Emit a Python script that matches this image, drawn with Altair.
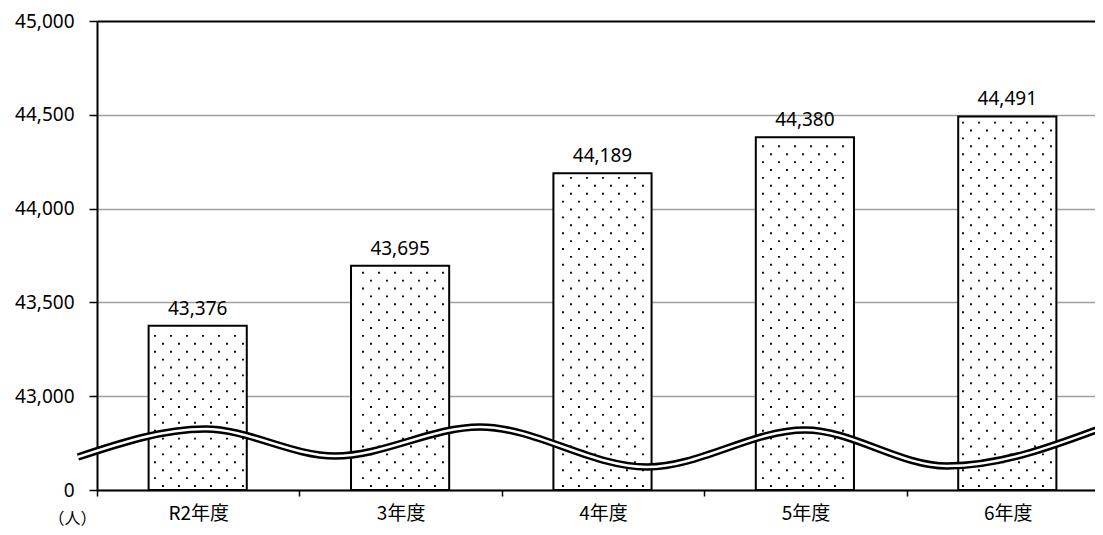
import altair as alt
import numpy as np
import pandas as pd

# ---- data ----
categories = ["R2年度", "3年度", "4年度", "5年度", "6年度"]
values = [43376, 43695, 44189, 44380, 44491]
y_ticks = [0, 43000, 43500, 44000, 44500, 45000]
y_tick_labels = ["0", "43,000", "43,500", "44,000", "44,500", "45,000"]
unit_label = "（人）"

# ---- layout constants (whole SVG kept inside the 1103x535 window) ----
PAD_L, PAD_T, PAD_B = 89, 13, 37
W, H = 998, 469
PX_X = 202.4                      # pixels per category band in the reference
X_MAX = W / PX_X                  # last band is cut at the right edge
Y_MAX = len(y_ticks) - 1
PX_Y = H / Y_MAX
BAR_L, BAR_R = 0.255, 0.74

# broken axis: piecewise-linear position through the tick values
y_pos = np.interp(values, y_ticks, list(range(len(y_ticks))))

bars = pd.DataFrame({
    "cat": categories,
    "value": values,
    "x0": [i + BAR_L for i in range(len(categories))],
    "x1": [i + BAR_R for i in range(len(categories))],
    "xc": [i + (BAR_L + BAR_R) / 2 for i in range(len(categories))],
    "y": y_pos,
    "base": 0.0,
})

# dotted fill texture (pattern lattice clipped to each bar)
dots = []
for i, yp in enumerate(y_pos):
    x0px, x1px = (i + BAR_L) * PX_X, (i + BAR_R) * PX_X
    top = yp * PX_Y
    r = 0
    while 4 + r * 7.9 < top - 3:
        ypx = 4 + r * 7.9
        off = 8 if r % 2 else 0
        k = 0
        while k * 16 + off + 2 < W:
            xpx = k * 16 + off + 2
            if x0px + 4 < xpx < x1px - 3:
                dots.append({"x": xpx / PX_X, "y": ypx / PX_Y})
            k += 1
        r += 1
dots = pd.DataFrame(dots)

# axis-break wave symbol (pixel control points: x from plot left, y up from plot bottom)
wave_px = [(-19, 33), (108, 61), (238, 34), (383, 63), (550, 23),
           (708, 60), (850, 24), (1010, 64)]
wave = pd.DataFrame({
    "x": [p[0] / PX_X for p in wave_px],
    "y": [p[1] / PX_Y for p in wave_px],
    "o": list(range(len(wave_px))),
})

xs = alt.Scale(domain=[0, X_MAX], nice=False, zero=False)
ys = alt.Scale(domain=[0, Y_MAX], nice=False, zero=False)

cat_js = "[" + ",".join("'" + c + "'" for c in categories) + "]"
ylab_js = "[" + ",".join("'" + c + "'" for c in y_tick_labels) + "]"

x_axis = alt.Axis(
    values=[v / 2 for v in range(0, 2 * len(categories))],
    labelExpr=f"(datum.value % 1) == 0.5 ? {cat_js}[floor(datum.value)] : ''",
    tickOpacity={"condition": {"test": "(datum.value % 1) == 0", "value": 1}, "value": 0},
    title=None, grid=False, labelOverlap=False, labelFlush=False, labelBound=False,
    domainColor="black", domainWidth=2, tickColor="black", tickWidth=1.5, tickSize=6,
    labelFont="Noto Sans CJK JP", labelFontSize=19, labelColor="black", labelPadding=8,
)
y_axis = alt.Axis(
    values=list(range(len(y_ticks))),
    labelExpr=f"{ylab_js}[datum.value]",
    title=unit_label, titleAngle=0, titleX=-25, titleY=H + 28, titleAlign="center",
    titleBaseline="middle", titleFont="Noto Sans CJK JP", titleFontSize=16,
    titleFontWeight="normal", titleColor="black",
    grid=True,
    gridColor={"condition": {"test": f"datum.value == {Y_MAX}", "value": "black"}, "value": "#a0a0a0"},
    gridWidth={"condition": {"test": f"datum.value == {Y_MAX}", "value": 2}, "value": 1.5},
    domainColor="black", domainWidth=2, tickColor="black", tickWidth=1.5, tickSize=8,
    labelFont="Noto Sans", labelFontSize=19, labelColor="black", labelPadding=15,
    labelOverlap=False,
)

bar_layer = alt.Chart(bars).mark_rect(fill="white", stroke="black", strokeWidth=2).encode(
    x=alt.X("x0:Q", scale=xs, axis=x_axis),
    x2="x1:Q",
    y=alt.Y("y:Q", scale=ys, axis=y_axis),
    y2="base:Q",
)

dot_layer = alt.Chart(dots).mark_square(size=3.5, color="black", opacity=1).encode(
    x=alt.X("x:Q", scale=xs), y=alt.Y("y:Q", scale=ys)
)

wave_black = alt.Chart(wave).mark_line(
    color="black", strokeWidth=7.5, interpolate="monotone", clip=False
).encode(x=alt.X("x:Q", scale=xs), y=alt.Y("y:Q", scale=ys), order="o:Q")
wave_white = alt.Chart(wave).mark_line(
    color="white", strokeWidth=2.5, interpolate="monotone", clip=False
).encode(x=alt.X("x:Q", scale=xs), y=alt.Y("y:Q", scale=ys), order="o:Q")

text_layer = alt.Chart(bars).mark_text(
    dy=-11, baseline="alphabetic", align="center", font="Noto Sans", fontSize=19, color="black"
).encode(
    x=alt.X("xc:Q", scale=xs),
    y=alt.Y("y:Q", scale=ys),
    text=alt.Text("value:Q", format=","),
)

chart = alt.layer(bar_layer, dot_layer, wave_black, wave_white, text_layer).properties(
    width=W, height=H,
    autosize=alt.AutoSizeParams(type="none"),
    padding={"left": PAD_L, "top": PAD_T, "right": 0, "bottom": PAD_B},
    background="white",
).configure_view(stroke=None)

chart.save("out.html", embed_options={"renderer": "svg", "actions": False})
